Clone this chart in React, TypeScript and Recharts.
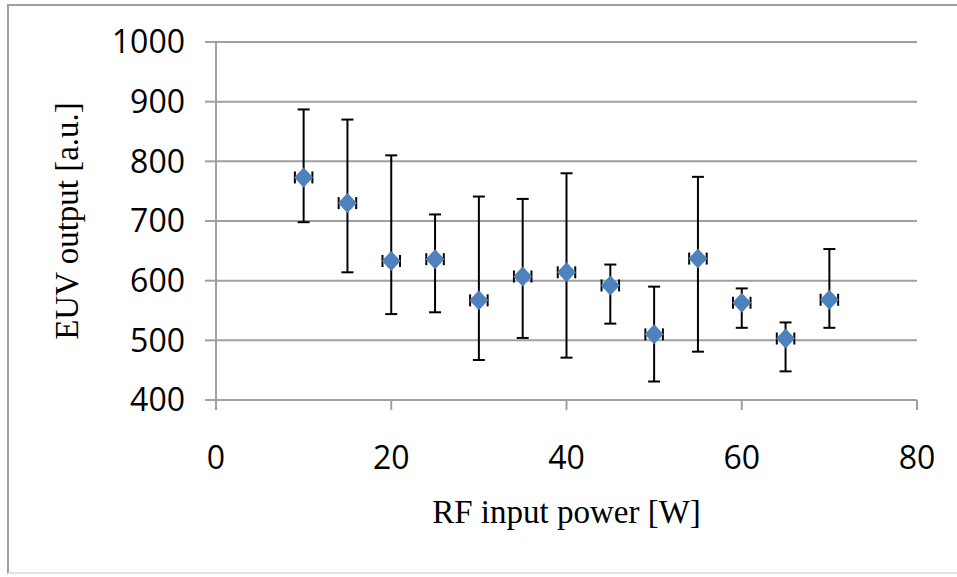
import React from "react";
import {
  ScatterChart,
  Scatter,
  XAxis,
  YAxis,
  CartesianGrid,
  ErrorBar,
  Label,
} from "recharts";

// RF input power [W]
const power = [10, 15, 20, 25, 30, 35, 40, 45, 50, 55, 60, 65, 70];
// EUV output [a.u.] — mean and the ends of each error bar
const euvOutput = [773, 730, 633, 636, 567, 607, 614, 592, 510, 637, 563, 503, 568];
const euvHigh = [887, 870, 810, 711, 741, 737, 780, 627, 590, 774, 587, 530, 653];
const euvLow = [698, 614, 544, 547, 467, 504, 471, 528, 431, 481, 521, 448, 521];
// small horizontal error on power
const powerErr = [1, 1, 1, 1, 1, 1, 1, 1, 1, 1, 1, 1, 1];

const xTicks = [0, 20, 40, 60, 80];
const yTicks = [400, 500, 600, 700, 800, 900, 1000];

const data = power.map((p, i) => ({
  power: p,
  euv: euvOutput[i],
  euvErr: [euvOutput[i] - euvLow[i], euvHigh[i] - euvOutput[i]],
  powerErr: powerErr[i],
}));

const GRAY = "#a0a0a0";
const BLUE = "#4f81bd";
const W = 957;
const H = 577;
const MARGIN = { top: 42, right: 40, bottom: 0, left: 0 };

// Excel-style diamond marker
const Diamond = (props: any) => {
  const { cx, cy } = props;
  if (cx == null || cy == null) return null;
  return (
    <path
      d={`M${cx},${cy - 10}L${cx + 9.5},${cy}L${cx},${cy + 10}L${cx - 9.5},${cy}Z`}
      fill={BLUE}
    />
  );
};

const Nothing = () => null;

const tickStyle = { fontFamily: "'Open Sans', sans-serif", fontSize: 32, fill: "#000" };
const titleStyle = { fontFamily: "'Liberation Serif', 'Times New Roman', serif", fontSize: 33, fill: "#000" };

export default function App() {
  return (
    <div
      style={{
        position: "absolute",
        left: 0,
        top: 0,
        width: W,
        height: H,
        overflow: "hidden",
        background: "#fff",
      }}
    >
      {/* chart frame */}
      <div
        style={{
          position: "absolute",
          left: 7,
          top: 4,
          width: 970,
          height: 566,
          borderLeft: `2px solid ${GRAY}`,
          borderTop: `2px solid ${GRAY}`,
          borderBottom: `2px solid #e4e4e4`,
        }}
      />
      {/* axes, grid and error bars */}
      <div style={{ position: "absolute", left: 0, top: 0 }}>
        <ScatterChart width={W} height={H} margin={MARGIN}>
          <CartesianGrid horizontal vertical={false} stroke={GRAY} strokeWidth={2} />
          <XAxis
            type="number"
            dataKey="power"
            domain={[0, 80]}
            ticks={xTicks}
            height={177}
            axisLine={{ stroke: GRAY, strokeWidth: 2 }}
            tickLine={{ stroke: GRAY, strokeWidth: 2 }}
            tickSize={10}
            tickMargin={36}
            tick={tickStyle}
          >
            <Label
              value="RF input power [W]"
              position="insideBottom"
              offset={54}
              style={titleStyle}
            />
          </XAxis>
          <YAxis
            type="number"
            dataKey="euv"
            domain={[400, 1000]}
            ticks={yTicks}
            width={216}
            axisLine={{ stroke: GRAY, strokeWidth: 2 }}
            tickLine={{ stroke: GRAY, strokeWidth: 2 }}
            tickSize={11}
            tickMargin={20}
            tick={tickStyle}
          >
            <Label
              value="EUV output [a.u.]"
              angle={-90}
              position="insideLeft"
              offset={66}
              style={{ ...titleStyle, textAnchor: "middle" }}
            />
          </YAxis>
          <Scatter data={data} shape={<Nothing />} isAnimationActive={false}>
            <ErrorBar
              dataKey="euvErr"
              direction="y"
              width={6}
              stroke="#000"
              strokeWidth={2}
              isAnimationActive={false}
            />
            <ErrorBar
              dataKey="powerErr"
              direction="x"
              width={6}
              stroke="#000"
              strokeWidth={2}
              isAnimationActive={false}
            />
          </Scatter>
        </ScatterChart>
      </div>
      {/* same geometry, markers only, laid over the bars */}
      <div style={{ position: "absolute", left: 0, top: 0 }}>
        <ScatterChart width={W} height={H} margin={MARGIN}>
          <XAxis
            type="number"
            dataKey="power"
            domain={[0, 80]}
            ticks={xTicks}
            height={177}
            axisLine={false}
            tickLine={false}
            tick={false}
          />
          <YAxis
            type="number"
            dataKey="euv"
            domain={[400, 1000]}
            ticks={yTicks}
            width={216}
            axisLine={false}
            tickLine={false}
            tick={false}
          />
          <Scatter data={data} shape={<Diamond />} isAnimationActive={false} />
        </ScatterChart>
      </div>
    </div>
  );
}
